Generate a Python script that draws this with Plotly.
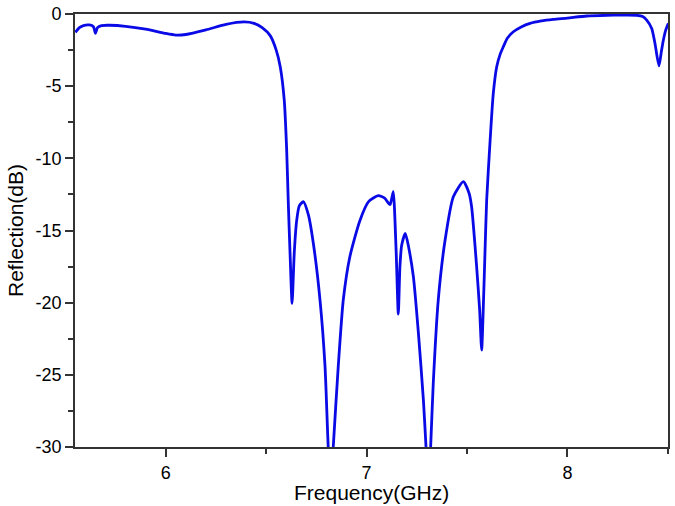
"""
Reflection spectrum - Plotly line chart
"""

import plotly.graph_objects as go

# Values (GHz, dB)
freq = [5.55, 5.57, 5.59, 5.62, 5.64, 5.65, 5.66, 5.68, 5.72, 5.80, 5.90,
        6.00, 6.05, 6.10, 6.20, 6.30, 6.39, 6.44, 6.48, 6.52, 6.55, 6.57,
        6.59, 6.602, 6.61, 6.62, 6.629, 6.64, 6.652, 6.665, 6.685, 6.71,
        6.735, 6.768, 6.793, 6.809, 6.822, 6.834, 6.859, 6.884, 6.917, 6.967,
        7.01, 7.058, 7.09, 7.108, 7.117, 7.125, 7.133, 7.147, 7.158, 7.166,
        7.175, 7.193, 7.21, 7.233, 7.258, 7.283, 7.296, 7.308, 7.319, 7.332,
        7.357, 7.391, 7.432, 7.482, 7.51, 7.523, 7.548, 7.563, 7.573, 7.582,
        7.590, 7.598, 7.615, 7.631, 7.648, 7.665, 7.681, 7.70, 7.731, 7.77,
        7.814, 7.87, 7.930, 8.00, 8.096, 8.196, 8.27, 8.345, 8.375, 8.395,
        8.42, 8.436, 8.456, 8.468, 8.478, 8.49, 8.503]
refl = [-1.27, -0.95, -0.80, -0.76, -0.88, -1.34, -0.95, -0.80, -0.78, -0.85, -1.05,
        -1.35, -1.46, -1.42, -1.10, -0.72, -0.55, -0.65, -0.95, -1.50, -2.50, -3.65,
        -5.96, -9.4, -13.0, -17.0, -20.05, -16.5, -14.3, -13.3, -13.0, -13.9,
        -15.9, -19.8, -24.4, -30.0, -33.0, -30.0, -24.4, -19.8, -16.8, -14.3,
        -13.0, -12.59, -12.75, -13.1, -13.2, -12.8, -12.31, -16.35, -20.8, -17.5,
        -16.0, -15.2, -16.2, -18.2, -22.1, -26.75, -30.0, -33.0, -30.0, -25.6,
        -19.8, -15.66, -12.66, -11.62, -12.4, -13.35, -17.5, -20.5, -23.28, -20.0,
        -16.35, -12.9, -8.8, -5.5, -3.65, -2.8, -2.27, -1.70, -1.23, -0.90,
        -0.65, -0.48, -0.37, -0.28, -0.14, -0.09, -0.08, -0.09, -0.18, -0.42,
        -1.0, -2.03, -3.6, -2.6, -1.8, -1.1, -0.65]

x_ticks = [6, 7, 8]
x_labels = ['6', '7', '8']
y_ticks = [0, -5, -10, -15, -20, -25, -30]
y_labels = ['0', '-5', '-10', '-15', '-20', '-25', '-30']

fig = go.Figure()
fig.add_trace(go.Scatter(x=freq, y=refl, mode='lines',
                         line=dict(color='#0a0ae6', width=2.8, shape='spline', smoothing=0.6),
                         showlegend=False))

axis_style = dict(
    showgrid=False, zeroline=False, automargin=False, ticklabeloverflow='allow',
    showline=True, linecolor='#333333', linewidth=1.8, mirror=True,
    ticks='outside', ticklen=8, tickwidth=1.5, tickcolor='#333333',
    tickfont=dict(family='Liberation Sans, Arial', size=18, color='black'),
)

fig.update_layout(
    width=675, height=506,
    paper_bgcolor='white', plot_bgcolor='white',
    margin=dict(l=75, r=7, t=14, b=59),
    font=dict(family='Liberation Sans, Arial', color='black'),
)
fig.update_xaxes(**axis_style, range=[5.548, 8.501], tickvals=x_ticks, ticktext=x_labels,
                 minor=dict(ticks='outside', ticklen=5, tickwidth=1.5,
                            tickcolor='#333333', dtick=0.5, tick0=5.5))
fig.update_yaxes(**axis_style, range=[-30, 0], tickvals=y_ticks, ticktext=y_labels,
                 minor=dict(ticks='outside', ticklen=5, tickwidth=1.5,
                            tickcolor='#333333', dtick=2.5, tick0=0),
                 title=dict(text='Reflection(dB)', font=dict(size=21), standoff=6))

# x title as annotation so it sits closer to the tick labels
fig.add_annotation(text='Frequency(GHz)', xref='paper', yref='paper',
                   x=0.5, y=-0.105, xanchor='center', yanchor='middle',
                   showarrow=False, font=dict(size=21, color='black'))

# drop the browser's default 8px body margin, hide the modebar
fig.write_html("out.html", config={'displayModeBar': False},
               post_script="document.body.style.margin='0';")
